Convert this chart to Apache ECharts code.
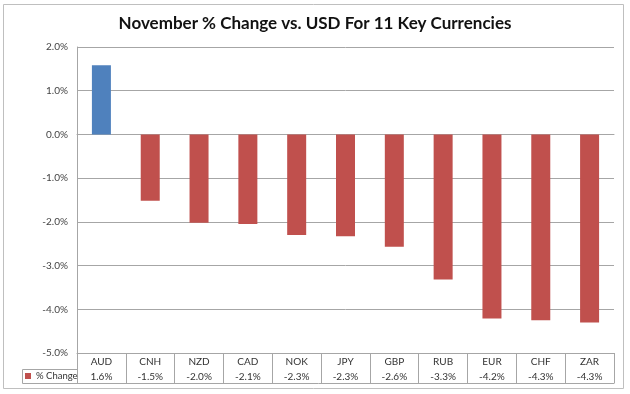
<!DOCTYPE html>
<html><head><meta charset="utf-8">
<script src="https://cdn.jsdelivr.net/npm/echarts@6/dist/echarts.min.js"></script>
<style>html,body{margin:0;padding:0;background:#fff}#c{width:630px;height:394px}</style>
</head><body><div id="c"></div>
<script>
var categories = ['AUD','CNH','NZD','CAD','NOK','JPY','GBP','RUB','EUR','CHF','ZAR'];
var values = [1.58,-1.52,-2.02,-2.05,-2.30,-2.33,-2.57,-3.32,-4.21,-4.25,-4.30];
var tableLabels = ['1.6%','-1.5%','-2.0%','-2.1%','-2.3%','-2.3%','-2.6%','-3.3%','-4.2%','-4.3%','-4.3%'];
var yTicks = {min:-5, max:2, interval:1};
var seriesName = '% Change';

var chart = echarts.init(document.getElementById('c'));
var font = 'Lato, "Open Sans", sans-serif';
var gridLine = '#A6A6A6';
chart.setOption({
  animation:false,
  title:{text:'November % Change vs. USD For 11 Key Currencies', left:'center', top:10,
    textStyle:{fontFamily:font, fontSize:17, fontWeight:'bold', color:'#111'}},
  legend:{data:[seriesName], left:25, top:371, itemWidth:6, itemHeight:6, itemGap:3, icon:'rect',
    textStyle:{fontFamily:font, fontSize:9.5, color:'#333'}, padding:0},
  grid:{left:77, right:16, top:47, bottom:41},
  yAxis:{type:'value', min:yTicks.min, max:yTicks.max, interval:yTicks.interval,
    axisLine:{show:true, lineStyle:{color:gridLine}}, axisTick:{show:false},
    splitLine:{lineStyle:{color:gridLine}},
    axisLabel:{formatter:function(v){return v.toFixed(1)+'%';}, fontFamily:font, fontSize:10, color:'#444', margin:9}},
  xAxis:[
    {type:'category', data:categories, position:'bottom',
      axisLine:{show:true, onZero:false, lineStyle:{color:gridLine}},
      axisTick:{show:true, length:30, alignWithLabel:false, lineStyle:{color:gridLine}},
      axisLabel:{fontFamily:font, fontSize:10, color:'#333', margin:4}},
    {type:'category', data:tableLabels, position:'bottom', offset:16,
      axisLine:{show:true, lineStyle:{color:gridLine}}, axisTick:{show:false},
      axisLabel:{fontFamily:font, fontSize:10, color:'#333', margin:3}}
  ],
  series:[{name:seriesName, type:'bar', barWidth:19,
    itemStyle:{color:'#C0504D'},
    data:values.map(function(v,i){return i===0?{value:v,itemStyle:{color:'#4F81BD'}}:v;})
  }],
  graphic:[
    {type:'rect', shape:{x:3.5,y:4.5,width:620,height:384}, style:{fill:'none', stroke:'#BFBFBF', lineWidth:1}, silent:true},
    {type:'line', shape:{x1:22.5,y1:369.5,x2:77.5,y2:369.5}, style:{stroke:gridLine, lineWidth:1}},
    {type:'line', shape:{x1:22.5,y1:383.5,x2:614.5,y2:383.5}, style:{stroke:gridLine, lineWidth:1}},
    {type:'line', shape:{x1:22.5,y1:369.5,x2:22.5,y2:383.5}, style:{stroke:gridLine, lineWidth:1}}
  ]
});
</script></body></html>
